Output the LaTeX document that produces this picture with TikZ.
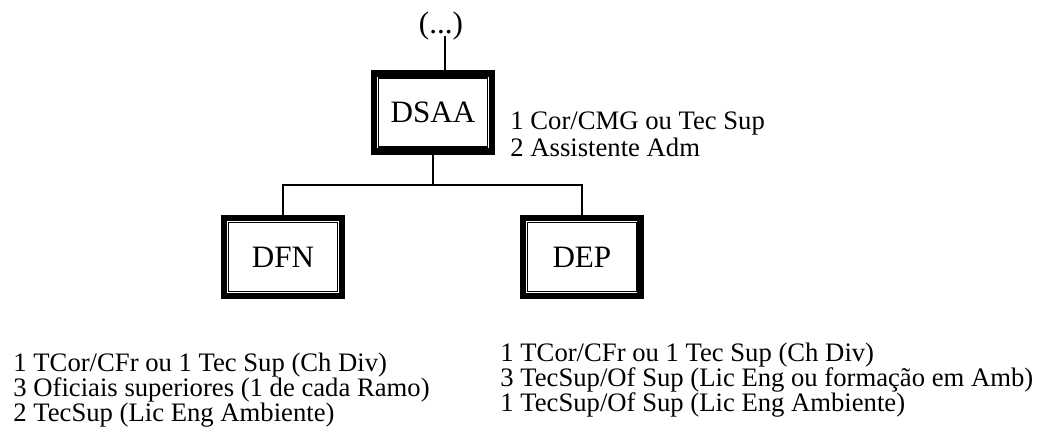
\documentclass[tikz,border=0pt]{standalone}
\usepackage{fontspec}
\setmainfont{Liberation Serif}
\usetikzlibrary{positioning, calc}

\begin{document}
\begin{tikzpicture}[
    x=0.45pt, y=-0.45pt,
    unitbox/.style={
        draw,
        line width=3pt,
        minimum width=53pt,
        minimum height=35pt,
        inner sep=0pt,
        font=\fontsize{14}{16}\selectfont
    },
    innerframe/.style={line width=0.65pt},
    info/.style={
        align=left,
        inner sep=0pt,
        font=\fontsize{12}{11.25}\selectfont
    },
    link/.style={line width=0.7pt}
]
\useasboundingbox (0,0) rectangle (1047,435);

% Units
\node[unitbox] (dsaa) at (433,112.5) {DSAA};
\node[unitbox, below=27pt of dsaa, xshift=-67.5pt] (dfn) {DFN};
\node[unitbox, below=27pt of dsaa, xshift=67pt] (dep) {DEP};
\foreach \n in {dsaa,dfn,dep}
    \draw[innerframe] ([shift={(3.4pt,3.4pt)}]\n.south west) rectangle ([shift={(-3.4pt,-3.4pt)}]\n.north east);

% Upper level
\node[info, font=\fontsize{14}{16}\selectfont] (dots) at (441,26.5) {(...)};

% Staff
\node[info, anchor=north west, font=\fontsize{12}{12.2}\selectfont] (dsaainfo) at (510,111.5) {1 Cor/CMG ou Tec Sup\\2 Assistente Adm};
\node[info, anchor=north west] (dfninfo) at (13,353) {1 TCor/CFr ou 1 Tec Sup (Ch Div)\\3 Oficiais superiores (1 de cada Ramo)\\2 TecSup (Lic Eng Ambiente)};
\node[info, anchor=north west] (depinfo) at (500,343) {1 TCor/CFr ou 1 Tec Sup (Ch Div)\\3 TecSup/Of Sup (Lic Eng ou formação em Amb)\\1 TecSup/Of Sup (Lic Eng Ambiente)};

% Links
\coordinate (bus) at ($(dsaa.south)!0.5!(dfn.north)$);
\draw[link] ([xshift=1.8pt, yshift=-1pt]dots.base) -- ([xshift=1.8pt]dots.base |- dsaa.north);
\draw[link] (dsaa.south) -- (dsaa.south |- bus);
\draw[link] (dfn.north) |- (dsaa.south |- bus) -| (dep.north);

\end{tikzpicture}
\end{document}
